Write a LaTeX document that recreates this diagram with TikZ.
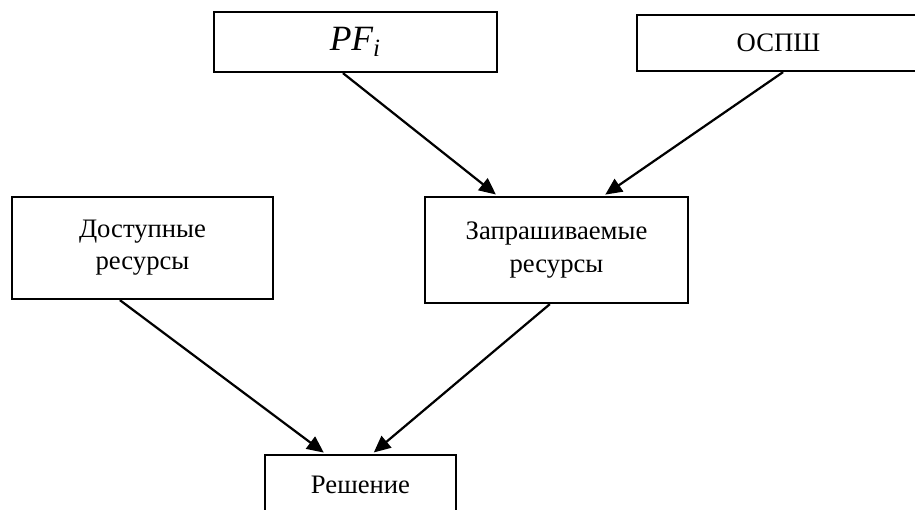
\documentclass[tikz,border=0pt]{standalone}
\usepackage{fontspec}
\setmainfont{Liberation Serif}
\usetikzlibrary{positioning,arrows.meta,calc}

\begin{document}
\begin{tikzpicture}[
  x=0.45pt,y=-0.45pt,
  font=\fontsize{12}{14.5}\selectfont,
  box/.style={rectangle,draw=black,line width=1pt,align=center,inner sep=0pt},
  arr/.style={-{Triangle[length=7.5pt,width=6.8pt]},line width=1pt,shorten >=1pt},
]
\clip (0,0) rectangle (915,510);
% ---------- top row ----------
\node[box,minimum width=127.35pt,minimum height=27pt] (pf) at (355.5,42)
  {\fontsize{16}{18}\selectfont\itshape PF\textsubscript{i}};
\node[box,minimum width=127.35pt,minimum height=25.2pt] (ospsh) at (778.5,43) {ОСПШ};

% ---------- middle row ----------
\node[box,minimum width=117.45pt,minimum height=45.9pt] (avail) at (142.5,248)
  {Доступные\\ресурсы};
\node[box,minimum width=118.35pt,minimum height=47.7pt] (req) at (556.5,250)
  {Запрашиваемые\\ресурсы};

% ---------- bottom ----------
\node[box,minimum width=85.95pt,minimum height=27pt] (dec) at (360.5,485) {Решение};

% ---------- arrows ----------
\draw[arr] ($(pf.south west)!0.456!(pf.south east)$) -- ($(req.north west)!0.278!(req.north east)$);
\draw[arr] ($(ospsh.south west)!0.516!(ospsh.south east)$) -- ($(req.north west)!0.677!(req.north east)$);
\draw[arr] ($(avail.south west)!0.414!(avail.south east)$) -- ($(dec.north west)!0.319!(dec.north east)$);
\draw[arr] ($(req.south west)!0.475!(req.south east)$) -- ($(dec.north west)!0.56!(dec.north east)$);
\end{tikzpicture}
\end{document}
